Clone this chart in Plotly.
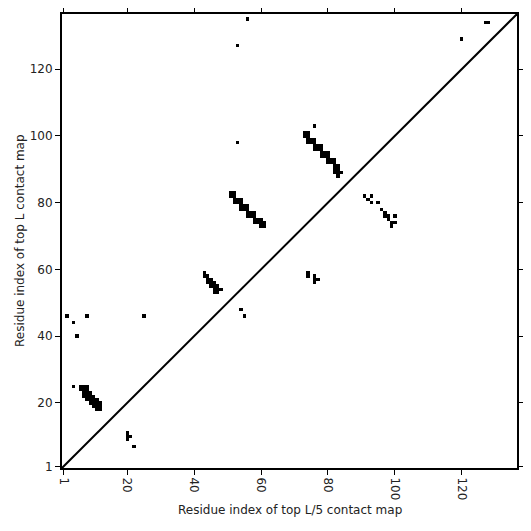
import plotly.graph_objects as go
import numpy as np

L = 136
tick_vals = [1, 20, 40, 60, 80, 100, 120]
tick_text = ["1", "20", "40", "60", "80", "100", "120"]
x_title = "Residue index of top L/5 contact map"
y_title = "Residue index of top L contact map"

# Top L contacts (upper-left triangle): residue i (x), residue j (y)
top_L_x = [56, 53, 120, 127, 128, 53, 76, 2, 8, 25, 4, 5, 4,
           51, 52, 51, 52, 52, 53, 54, 52, 53, 54, 54, 55, 56, 54, 55, 56, 56, 57, 58, 56, 57, 58,
           58, 59, 60, 58, 59, 60, 61, 60, 61,
           73, 74, 73, 74, 74, 75, 76, 74, 75, 76, 76, 77, 78, 76, 77, 78, 78, 79, 80, 78, 79, 80,
           80, 81, 82, 80, 81, 82, 82, 83, 82, 83, 82, 83, 84, 83,
           6, 7, 8, 6, 7, 8, 7, 8, 9, 7, 8, 9, 10, 8, 9, 10, 11, 9, 10, 11, 12, 10, 11, 12, 11, 12,
           43, 43, 44, 44, 45, 44, 45, 46, 45, 46, 47, 46, 47, 48, 46, 47]
top_L_y = [135, 127, 129, 134, 134, 98, 103, 46, 46, 46, 44, 40, 25,
           83, 83, 82, 82, 81, 81, 81, 80, 80, 80, 79, 79, 79, 78, 78, 78, 77, 77, 77, 76, 76, 76,
           75, 75, 75, 74, 74, 74, 74, 73, 73,
           101, 101, 100, 100, 99, 99, 99, 98, 98, 98, 97, 97, 97, 96, 96, 96, 95, 95, 95, 94, 94, 94,
           93, 93, 93, 92, 92, 92, 91, 91, 90, 90, 89, 89, 89, 88,
           25, 25, 25, 24, 24, 24, 23, 23, 23, 22, 22, 22, 22, 21, 21, 21, 21, 20, 20, 20, 20, 19, 19, 19, 18, 18,
           59, 58, 58, 57, 57, 56, 56, 56, 55, 55, 55, 54, 54, 54, 53, 53]

# Top L/5 contacts (lower-right triangle)
top_L5_x = [20, 20, 20, 21, 22, 54, 55, 74, 74, 76, 76, 76, 77,
            91, 92, 93, 93, 95, 96, 97, 97, 98, 98, 99, 99, 100, 100]
top_L5_y = [9, 10, 11, 10, 7, 48, 46, 58, 59, 56, 57, 58, 57,
            82, 81, 82, 80, 80, 78, 77, 76, 76, 75, 74, 73, 76, 74]

# build contact matrix
z = np.zeros((L, L))
for xs, ys in ((top_L_x, top_L_y), (top_L5_x, top_L5_y)):
    for i, j in zip(xs, ys):
        z[j - 1, i - 1] = 1

residues = list(range(1, L + 1))

fig = go.Figure()
fig.add_trace(go.Heatmap(
    x=residues, y=residues, z=z,
    colorscale=[[0, "white"], [1, "black"]],
    zmin=0, zmax=1, showscale=False, hoverinfo="skip",
))
fig.add_trace(go.Scatter(
    x=[0.5, L + 0.5], y=[0.5, L + 0.5], mode="lines",
    line=dict(color="black", width=2), hoverinfo="skip", showlegend=False,
))

axis_common = dict(
    range=[0.5, L + 0.5], tickvals=tick_vals, ticktext=tick_text,
    showline=True, linecolor="black", linewidth=2, mirror="allticks",
    ticks="outside", ticklen=5, tickwidth=1, tickcolor="black",
    showgrid=False, zeroline=False, automargin=False,
    tickfont=dict(family="DejaVu Sans", size=12, color="#222"),
)

fig.update_layout(
    width=523, height=523,
    margin=dict(l=54, r=14, t=6, b=63),
    paper_bgcolor="white", plot_bgcolor="white",
    showlegend=False,
    font=dict(family="DejaVu Sans", size=12, color="#222"),
    xaxis=dict(**axis_common, tickangle=90),
    yaxis=dict(**axis_common),
    annotations=[
        dict(text=x_title, xref="paper", yref="paper", x=0.5, y=-0.0925,
             xanchor="center", yanchor="middle", showarrow=False,
             font=dict(family="DejaVu Sans", size=12, color="#222")),
        dict(text=y_title, xref="paper", yref="paper", x=-0.0923, y=0.5,
             xanchor="center", yanchor="middle", textangle=-90, showarrow=False,
             font=dict(family="DejaVu Sans", size=12, color="#222")),
    ],
)

fig.write_html("out.html")
